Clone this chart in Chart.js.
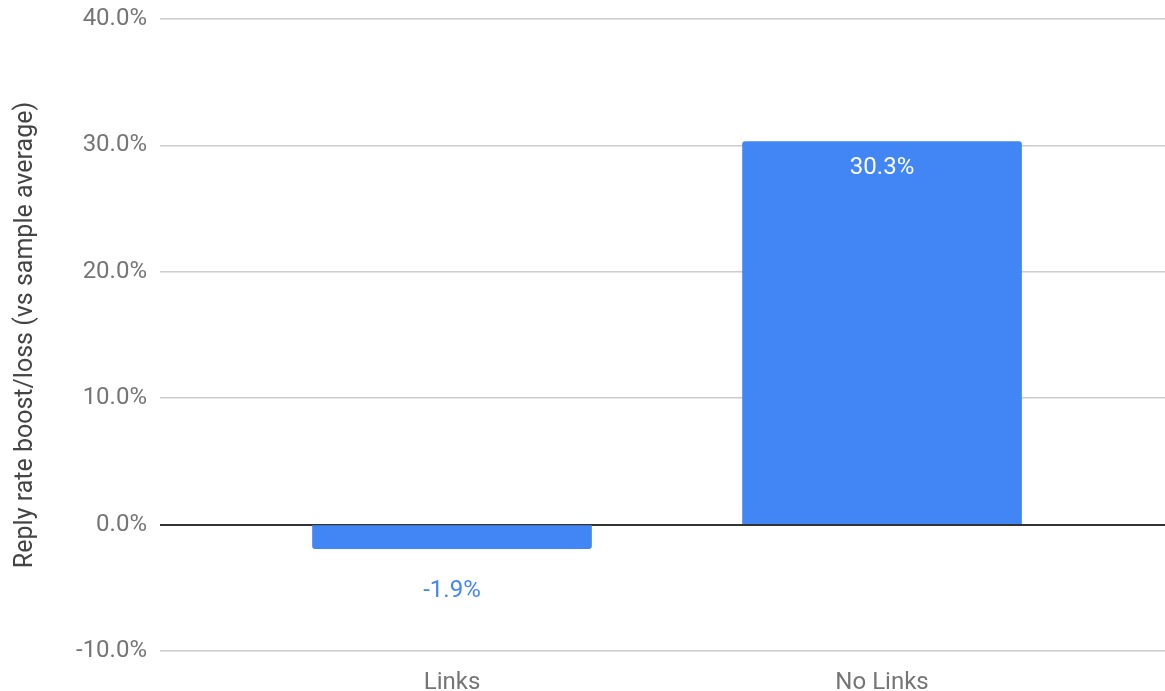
<!DOCTYPE html>
<html>
<head>
<meta charset="utf-8">
<script src="https://cdn.jsdelivr.net/npm/chart.js@4"></script>
<style>
html,body{margin:0;padding:0;background:#fff;}
#wrap{width:1165px;height:691px;position:relative;}
</style>
</head>
<body>
<div id="wrap"><canvas id="c"></canvas></div>
<script>
const categories = ['Links', 'No Links'];
const values = [-1.9, 30.3];
const yTicks = [-10, 0, 10, 20, 30, 40];
const yTitle = 'Reply rate boost/loss (vs sample average)';

const BLUE = '#4285F4';

const labelPlugin = {
  id: 'valLabels',
  afterDatasetsDraw(chart) {
    const ctx = chart.ctx;
    const meta = chart.getDatasetMeta(0);
    ctx.save();
    ctx.font = '24px Roboto';
    ctx.textAlign = 'center';
    ctx.textBaseline = 'middle';
    meta.data.forEach((bar, i) => {
      const v = values[i];
      const txt = v.toFixed(1) + '%';
      if (v >= 0) {
        ctx.fillStyle = '#ffffff';
        ctx.fillText(txt, bar.x, bar.y + 26);
      } else {
        ctx.fillStyle = BLUE;
        ctx.fillText(txt, bar.x, bar.y + 42);
      }
    });
    ctx.restore();
  }
};

new Chart(document.getElementById('c'), {
  type: 'bar',
  data: {
    datasets: [{
      data: categories.map((c, i) => ({x: i, y: values[i]})),
      backgroundColor: BLUE,
      borderRadius: 3,
      borderSkipped: 'start',
      barThickness: 279
    }]
  },
  plugins: [labelPlugin],
  options: {
    responsive: true,
    maintainAspectRatio: false,
    animation: false,
    layout: {padding: {top: 0, right: 0, left: 0, bottom: 0}},
    plugins: {legend: {display: false}, tooltip: {enabled: false}},
    scales: {
      x: {
        type: 'linear',
        min: -0.679,
        max: 1.658,
        offset: false,
        grid: {display: false},
        border: {display: false},
        afterBuildTicks(scale) { scale.ticks = categories.map((c, i) => ({value: i})); },
        afterFit(scale) { scale.height = 40; },
        ticks: {
          color: '#757575',
          font: {family: 'Roboto', size: 24},
          padding: 10,
          maxRotation: 0,
          autoSkip: false,
          callback: (v) => categories[v] ?? ''
        }
      },
      y: {
        min: -10,
        max: 40,
        afterBuildTicks(scale) { scale.ticks = yTicks.map(v => ({value: v})); },
        afterFit(scale) { scale.width = 160; },
        border: {display: false},
        grid: {
          drawTicks: false,
          color: (ctx) => ctx.tick && ctx.tick.value === 0 ? '#333333' : '#cccccc',
          lineWidth: (ctx) => ctx.tick && ctx.tick.value === 0 ? 2 : 1.5
        },
        ticks: {
          color: '#757575',
          font: {family: 'Roboto', size: 24, lineHeight: 0.5},
          padding: 13,
          callback: (v) => v.toFixed(1) + '%'
        },
        title: {
          display: true,
          text: yTitle,
          color: '#444444',
          font: {family: 'Roboto', size: 25},
          padding: {top: 11, bottom: 0}
        }
      }
    }
  }
});
</script>
</body>
</html>
